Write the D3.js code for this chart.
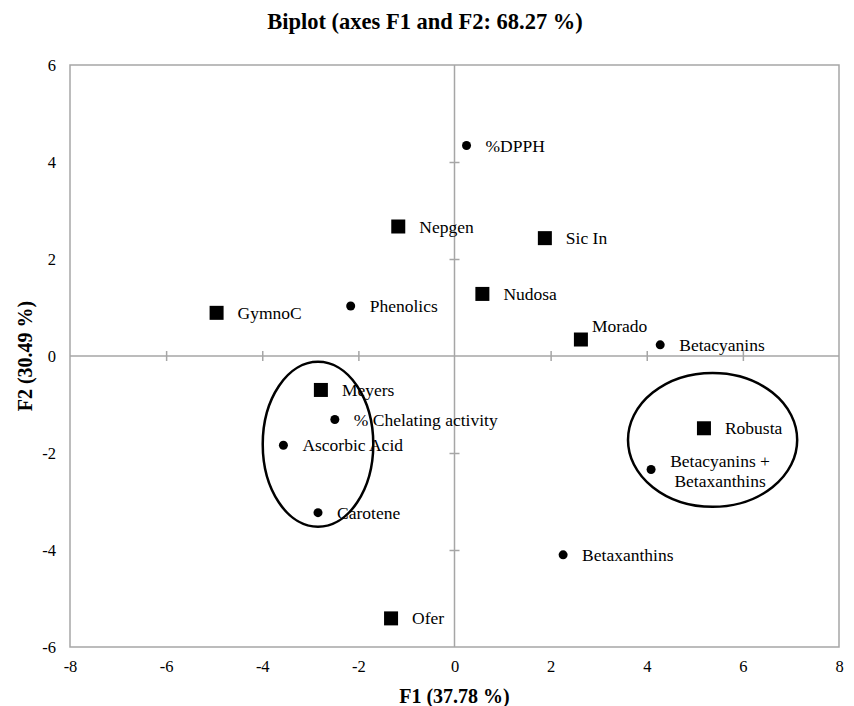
<!DOCTYPE html>
<html>
<head>
<meta charset="utf-8">
<script src="https://cdn.jsdelivr.net/npm/d3@7"></script>
<style>
  body { margin: 0; background: #fff; }
  svg { font-family: "Liberation Serif", "Times New Roman", serif; }
</style>
</head>
<body>
<svg id="chart" width="854" height="706"></svg>
<script>
// observations (squares)
const obsNames = ["Nepgen", "Sic In", "Nudosa", "Morado", "GymnoC", "Meyers", "Robusta", "Ofer"];
const obsF1 = [-1.17, 1.88, 0.58, 2.63, -4.95, -2.78, 5.19, -1.32];
const obsF2 = [2.67, 2.43, 1.28, 0.34, 0.89, -0.70, -1.49, -5.41];

// variables (dots)
const varNames = ["%DPPH", "Phenolics", "Betacyanins", "% Chelating activity", "Ascorbic Acid",
  "Carotene", "Betacyanins +\nBetaxanthins", "Betaxanthins"];
const varF1 = [0.25, -2.16, 4.28, -2.49, -3.56, -2.84, 4.09, 2.26];
const varF2 = [4.34, 1.03, 0.23, -1.31, -1.84, -3.23, -2.34, -4.10];

// grouping ellipses (centre and radii in axis units)
const ellCx = [-2.84, 5.37];
const ellCy = [-1.82, -1.73];
const ellRx = [1.15, 1.76];
const ellRy = [1.70, 1.38];

const xTicks = [-8, -6, -4, -2, 0, 2, 4, 6, 8];
const yTicks = [-6, -4, -2, 0, 2, 4, 6];

const width = 854, height = 706;
const margin = { top: 65, right: 15, bottom: 59, left: 70 };
const gridColor = "#a6a6a6";

const svg = d3.select("#chart");

const x = d3.scaleLinear().domain([-8, 8]).range([margin.left, width - margin.right]);
const y = d3.scaleLinear().domain([-6, 6]).range([height - margin.bottom, margin.top]);

// タイトル
svg.append("text")
  .attr("x", 425).attr("y", 29)
  .attr("text-anchor", "middle")
  .style("font-size", "22.5px").style("font-weight", "bold")
  .text("Biplot (axes F1 and F2: 68.27 %)");

// 枠
svg.append("rect")
  .attr("x", x(-8)).attr("y", y(6))
  .attr("width", x(8) - x(-8)).attr("height", y(-6) - y(6))
  .attr("fill", "none").attr("stroke", gridColor).attr("stroke-width", 1.5);

// 目盛ラベル (枠の外)
const xLab = svg.append("g")
  .attr("transform", `translate(0,${y(-6)})`)
  .call(d3.axisBottom(x).tickValues(xTicks).tickSize(0).tickPadding(13).tickFormat(d => String(d)));
const yLab = svg.append("g")
  .attr("transform", `translate(${x(-8)},0)`)
  .call(d3.axisLeft(y).tickValues(yTicks).tickSize(0).tickPadding(14).tickFormat(d => String(d)));
[xLab, yLab].forEach(g => {
  g.select(".domain").remove();
  g.selectAll("text").attr("fill", "#000")
    .style("font-family", "'Liberation Serif', serif").style("font-size", "16.5px");
});

// ゼロ軸 (目盛は線の両側)
const xZero = svg.append("g")
  .attr("transform", `translate(0,${y(0)})`)
  .call(d3.axisBottom(x).tickValues(xTicks.filter(v => Math.abs(v) < 8 && v !== 0)).tickFormat(""));
const yZero = svg.append("g")
  .attr("transform", `translate(${x(0)},0)`)
  .call(d3.axisLeft(y).tickValues(yTicks.filter(v => Math.abs(v) < 6 && v !== 0)).tickFormat(""));
xZero.select(".domain").remove();
yZero.select(".domain").remove();
xZero.selectAll(".tick line").attr("y1", -5).attr("y2", 5);
yZero.selectAll(".tick line").attr("x1", -5).attr("x2", 5);
[xZero, yZero].forEach(g => g.selectAll(".tick line").attr("stroke", gridColor).attr("stroke-width", 1.5));
svg.append("line")
  .attr("x1", x(-8)).attr("x2", x(8)).attr("y1", y(0)).attr("y2", y(0))
  .attr("stroke", gridColor).attr("stroke-width", 1.5);
svg.append("line")
  .attr("x1", x(0)).attr("x2", x(0)).attr("y1", y(6)).attr("y2", y(-6))
  .attr("stroke", gridColor).attr("stroke-width", 1.5);

// 軸タイトル
svg.append("text")
  .attr("x", x(0)).attr("y", 703)
  .attr("text-anchor", "middle")
  .style("font-size", "20px").style("font-weight", "bold")
  .text("F1 (37.78 %)");
svg.append("text")
  .attr("transform", `translate(32,${y(0)}) rotate(-90)`)
  .attr("text-anchor", "middle")
  .style("font-size", "20px").style("font-weight", "bold")
  .text("F2 (30.49 %)");

// 楕円
svg.append("g").selectAll("ellipse")
  .data(ellCx.map((c, i) => i))
  .join("ellipse")
  .attr("cx", i => x(ellCx[i]))
  .attr("cy", i => y(ellCy[i]))
  .attr("rx", i => x(ellRx[i]) - x(0))
  .attr("ry", i => y(0) - y(ellRy[i]))
  .attr("fill", "none").attr("stroke", "#000").attr("stroke-width", 2.5);

// 変数 (丸)
const vars = varNames.map((n, i) => ({ name: n, f1: varF1[i], f2: varF2[i] }));
const obs = obsNames.map((n, i) => ({ name: n, f1: obsF1[i], f2: obsF2[i] }));

svg.append("g").selectAll("circle")
  .data(vars)
  .join("circle")
  .attr("cx", d => x(d.f1)).attr("cy", d => y(d.f2))
  .attr("r", 4.5).attr("fill", "#000");

svg.append("g").selectAll("rect")
  .data(obs)
  .join("rect")
  .attr("x", d => x(d.f1) - 7).attr("y", d => y(d.f2) - 7)
  .attr("width", 14).attr("height", 14).attr("fill", "#000");

// ラベル
const labelG = svg.append("g").style("font-size", "17.5px");

vars.forEach(d => {
  const lines = d.name.split("\n");
  if (lines.length === 1) {
    labelG.append("text")
      .attr("x", x(d.f1) + 19).attr("y", y(d.f2) + 6)
      .text(d.name);
  } else {
    const t = labelG.append("text").attr("text-anchor", "middle");
    lines.forEach((ln, k) => {
      t.append("tspan")
        .attr("x", x(d.f1) + 69)
        .attr("y", y(d.f2) - 2 + k * 20)
        .text(ln);
    });
  }
});

obs.forEach(d => {
  const above = d.name === "Morado";
  labelG.append("text")
    .attr("x", x(d.f1) + (above ? 11 : 21))
    .attr("y", y(d.f2) + (above ? -8 : 6))
    .text(d.name);
});
</script>
</body>
</html>
